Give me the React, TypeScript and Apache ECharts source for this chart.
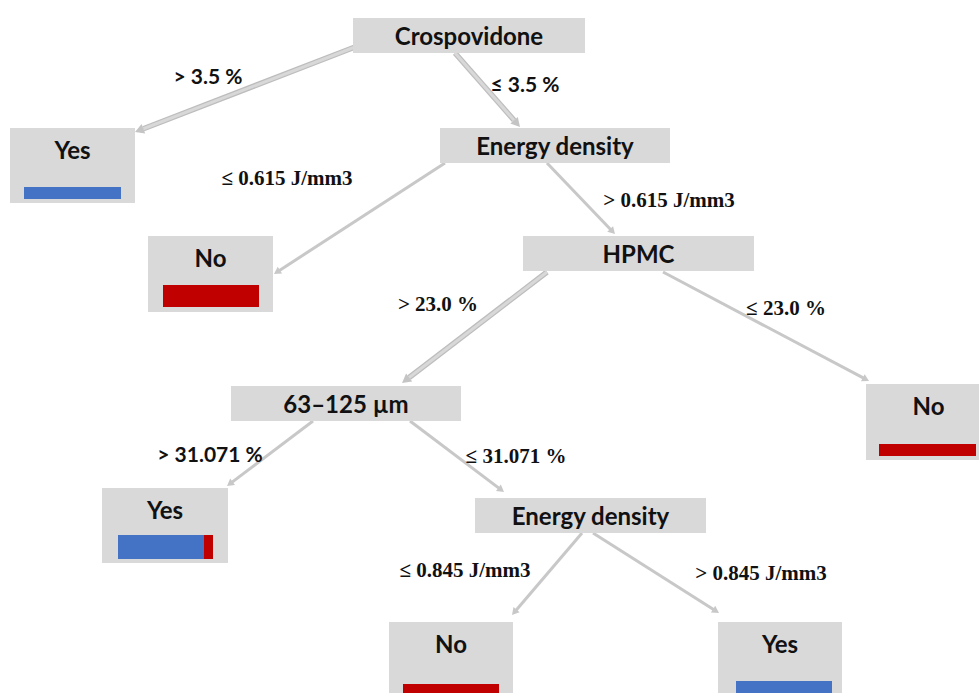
import React, { useEffect, useRef } from "react";
import * as echarts from "echarts";

// ---------- data ----------
const nodeLabels = [
  "Crospovidone",
  "Yes",
  "Energy density",
  "No",
  "HPMC",
  "63–125 µm",
  "No",
  "Yes",
  "Energy density",
  "No",
  "Yes",
];
// share of "Yes" class in leaf nodes (null = split node)
const leafYesShare: (number | null)[] = [null, 1, null, 0, null, null, 0, 0.9, null, 0, 1];

const edgeFrom = [0, 0, 2, 2, 4, 4, 5, 5, 8, 8];
const edgeTo = [1, 2, 3, 4, 5, 6, 7, 8, 9, 10];
const edgeLabels = [
  "> 3.5 %",
  "≤ 3.5 %",
  "≤ 0.615 J/mm3",
  "> 0.615 J/mm3",
  "> 23.0 %",
  "≤ 23.0 %",
  "> 31.071 %",
  "≤ 31.071 %",
  "≤ 0.845 J/mm3",
  "> 0.845 J/mm3",
];

// ---------- layout (diagram space, mapped through hidden value axes) ----------
const nodeBoxes = [
  [353, 18, 585, 53],
  [10, 128, 135, 203],
  [440, 128, 670, 163],
  [148, 236, 273, 312],
  [523, 236, 754, 271],
  [231, 386, 461, 421],
  [866, 384, 991, 460],
  [102, 488, 228, 563],
  [475, 498, 706, 533],
  [389, 622, 513, 700],
  [718, 622, 842, 700],
];
const leafBars: (number[] | null)[] = [
  null,
  [24, 187, 121, 199],
  null,
  [163, 285, 259, 307],
  null,
  null,
  [879, 444, 976, 456],
  [118, 535, 213, 559],
  null,
  [403, 684, 499, 700],
  [736, 681, 832, 700],
];
const edgeLines = [
  [355, 47, 135, 132],
  [455, 53, 520, 127],
  [445, 163, 274, 274],
  [547, 163, 615, 234],
  [547, 272, 402, 383],
  [663, 272, 869, 381],
  [313, 421, 227, 486],
  [410, 421, 504, 492],
  [582, 533, 512, 615],
  [593, 533, 719, 613],
];
const edgeThick = [true, true, false, false, true, false, false, false, false, false];
const edgeLabelPos = [
  [208, 75],
  [525, 83],
  [287, 178],
  [669, 200],
  [438, 304],
  [786, 308],
  [210, 453],
  [516, 456],
  [465, 570],
  [761, 573],
];
const edgeLabelSans = [true, true, false, false, false, false, true, false, false, false];

const BOX = "#d9d9d9";
const BLUE = "#4472c4";
const RED = "#c00000";
const SANS = "Lato, 'Open Sans', sans-serif";
const SERIF = "'Liberation Serif', 'DejaVu Serif', serif";

export default function App() {
  const ref = useRef<HTMLDivElement>(null);
  useEffect(() => {
    document.body.style.margin = "0";
    if (!ref.current) return;
    const chart = echarts.init(ref.current, undefined, { renderer: "svg" });

    const edgeSeries = {
      type: "custom",
      coordinateSystem: "cartesian2d",
      data: edgeFrom.map((_, i) => [edgeLines[i][0], edgeLines[i][1], i]),
      silent: true,
      renderItem: (params: any, api: any) => {
        const i = api.value(2);
        const [x1, y1, x2, y2] = edgeLines[i];
        const p1 = api.coord([x1, y1]);
        const p2 = api.coord([x2, y2]);
        const dx = p2[0] - p1[0];
        const dy = p2[1] - p1[1];
        const len = Math.sqrt(dx * dx + dy * dy);
        const ux = dx / len;
        const uy = dy / len;
        const al = edgeThick[i] ? 9 : 7;
        const aw = edgeThick[i] ? 5 : 4;
        const base = [p2[0] - ux * al, p2[1] - uy * al];
        const children: any[] = [];
        if (edgeThick[i]) {
          children.push({
            type: "line",
            shape: { x1: p1[0], y1: p1[1], x2: base[0], y2: base[1] },
            style: { stroke: "#bdbdbd", lineWidth: 5.5 },
          });
          children.push({
            type: "line",
            shape: { x1: p1[0], y1: p1[1], x2: base[0], y2: base[1] },
            style: { stroke: "#d8d8d8", lineWidth: 3 },
          });
        } else {
          children.push({
            type: "line",
            shape: { x1: p1[0], y1: p1[1], x2: base[0] + ux, y2: base[1] + uy },
            style: { stroke: "#c8c8c8", lineWidth: 3 },
          });
        }
        children.push({
          type: "polygon",
          shape: {
            points: [
              [p2[0], p2[1]],
              [base[0] - uy * aw, base[1] + ux * aw],
              [base[0] + uy * aw, base[1] - ux * aw],
            ],
          },
          style: { fill: edgeThick[i] ? "#c4c4c4" : "#c8c8c8" },
        });
        return { type: "group", children };
      },
      z: 1,
    };

    const nodeSeries = {
      type: "custom",
      coordinateSystem: "cartesian2d",
      data: nodeLabels.map((_, i) => [nodeBoxes[i][0], nodeBoxes[i][1], i]),
      silent: true,
      renderItem: (params: any, api: any) => {
        const i = api.value(2);
        const [bx0, by0, bx1, by1] = nodeBoxes[i];
        const a = api.coord([bx0, by0]);
        const b = api.coord([bx1, by1]);
        const children: any[] = [
          {
            type: "rect",
            shape: { x: a[0], y: a[1], width: b[0] - a[0], height: b[1] - a[1] },
            style: { fill: BOX },
          },
        ];
        const bar = leafBars[i];
        const share = leafYesShare[i];
        const cx = (a[0] + b[0]) / 2;
        if (bar && share !== null) {
          const ty = api.coord([0, by0 + 21])[1];
          children.push({
            type: "text",
            style: {
              text: nodeLabels[i],
              x: cx,
              y: ty,
              align: "center",
              verticalAlign: "middle",
              font: `bold 24px ${SANS}`,
              fill: "#111",
            },
          });
          const p = api.coord([bar[0], bar[1]]);
          const q = api.coord([bar[2], bar[3]]);
          const w = q[0] - p[0];
          const h = q[1] - p[1];
          const bw = w * share;
          if (bw > 0)
            children.push({
              type: "rect",
              shape: { x: p[0], y: p[1], width: bw, height: h },
              style: { fill: BLUE },
            });
          if (w - bw > 0)
            children.push({
              type: "rect",
              shape: { x: p[0] + bw, y: p[1], width: w - bw, height: h },
              style: { fill: RED },
            });
        } else {
          children.push({
            type: "text",
            style: {
              text: nodeLabels[i],
              x: cx,
              y: (a[1] + b[1]) / 2,
              align: "center",
              verticalAlign: "middle",
              font: `bold 24px ${SANS}`,
              fill: "#111",
            },
          });
        }
        return { type: "group", children };
      },
      z: 2,
    };

    const labelSeries = {
      type: "custom",
      coordinateSystem: "cartesian2d",
      data: edgeLabels.map((_, i) => [edgeLabelPos[i][0], edgeLabelPos[i][1], i]),
      silent: true,
      renderItem: (params: any, api: any) => {
        const i = api.value(2);
        const p = api.coord([api.value(0), api.value(1)]);
        return {
          type: "text",
          style: {
            text: edgeLabels[i],
            x: p[0],
            y: p[1],
            align: "center",
            verticalAlign: "middle",
            font: edgeLabelSans[i] ? `bold 21px ${SANS}` : `bold 21px ${SERIF}`,
            fill: "#111",
          },
        };
      },
      z: 3,
    };

    chart.setOption({
      animation: false,
      backgroundColor: "#ffffff",
      grid: { left: 0, right: 0, top: 0, bottom: 0 },
      xAxis: { type: "value", min: 0, max: 979, show: false },
      yAxis: { type: "value", min: 0, max: 693, inverse: true, show: false },
      series: [edgeSeries, nodeSeries, labelSeries],
    });
    return () => chart.dispose();
  }, []);
  return <div ref={ref} style={{ width: 979, height: 693 }} />;
}
